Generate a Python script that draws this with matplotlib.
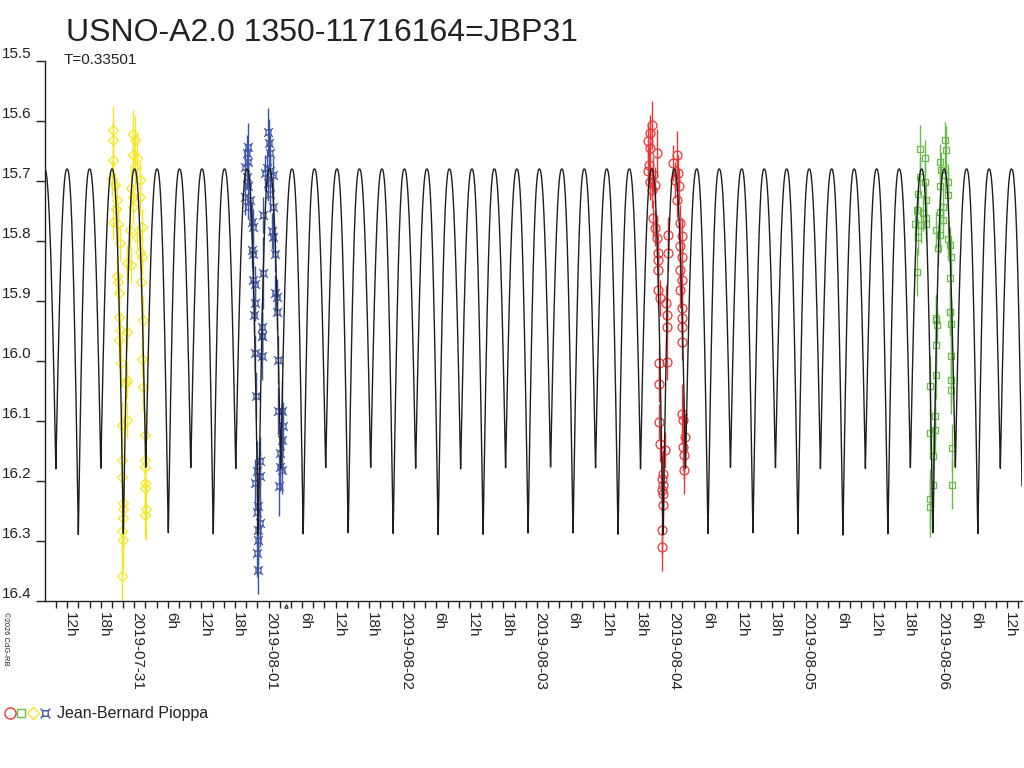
import numpy as np
import matplotlib
matplotlib.use("Agg")
import matplotlib.pyplot as plt
import matplotlib.transforms as mtransforms
from matplotlib.path import Path
from datetime import datetime, timedelta

plt.rcParams['font.family'] = ['Liberation Sans', 'DejaVu Sans']

TITLE = "USNO-A2.0 1350-11716164=JBP31"
SUBTITLE = "T=0.33501"
OBSERVER = "Jean-Bernard Pioppa"
COPYRIGHT = "\u00a92026 CdG-RB"
BASE_DATE = datetime(2019, 7, 30)   # time axis: hours since this date

# ---- light-curve model (period given on the chart) ----
PERIOD_DAYS = 0.33501
EPOCH_HOURS = 30.08          # a primary minimum
MAX_MAG = 15.68
PRIMARY_MIN_MAG = 16.29
SECONDARY_MIN_MAG = 16.18
SHAPE_EXP = 1.2
CURVE_RANGE_HOURS = (8.0, 182.7)

X_LIMITS = (8.04, 182.7)
Y_LIMITS = (16.4, 15.5)
Y_TICKS = [15.5, 15.6, 15.7, 15.8, 15.9, 16.0, 16.1, 16.2, 16.3, 16.4]
X_TICKS = list(range(10, 184, 2))

# ---- observations (hours since 2019-07-30 00:00, magnitude, error) ----
yellow_t = [20.25, 20.25, 20.2, 19.96, 20.55, 20.85, 20.73, 20.25, 21.14, 21.44,
            20.96, 21.14, 21.32, 21.32, 21.44, 21.32, 21.56, 22.64, 22.64, 22.52,
            22.64, 21.74, 21.74, 21.74, 22.03, 21.92, 22.03, 21.74, 22.03, 21.74,
            23.82, 24.12, 23.71, 24.42, 24.12, 25.02, 23.35, 23.71, 25.02, 23.82,
            25.32, 23.23, 24.42, 25.02, 25.32, 22.64, 23.35, 25.14, 25.50, 25.32,
            25.61, 25.91, 25.91, 25.91, 25.91, 25.91, 26.09, 25.91]
yellow_mag = [15.615, 15.632, 15.665, 15.696, 15.707, 15.732, 15.746, 15.768, 15.771, 15.804,
              15.859, 15.868, 15.887, 15.926, 15.948, 15.965, 16.004, 15.951, 16.032, 16.037,
              16.098, 16.107, 16.165, 16.193, 16.237, 16.246, 16.262, 16.284, 16.298, 16.359,
              15.621, 15.632, 15.657, 15.662, 15.676, 15.698, 15.712, 15.726, 15.726, 15.743,
              15.776, 15.782, 15.793, 15.818, 15.826, 15.837, 15.840, 15.868, 15.932, 15.996,
              16.043, 16.123, 16.165, 16.176, 16.204, 16.212, 16.246, 16.257]
yellow_err = [0.04, 0.03, 0.03, 0.03, 0.02, 0.03, 0.02, 0.03, 0.03, 0.03,
              0.03, 0.02, 0.03, 0.03, 0.03, 0.03, 0.04, 0.03, 0.03, 0.03,
              0.03, 0.04, 0.04, 0.03, 0.04, 0.04, 0.05, 0.04, 0.05, 0.05,
              0.04, 0.04, 0.03, 0.04, 0.03, 0.03, 0.03, 0.02, 0.03, 0.03,
              0.03, 0.03, 0.02, 0.03, 0.03, 0.03, 0.03, 0.03, 0.04, 0.03,
              0.04, 0.04, 0.03, 0.03, 0.04, 0.03, 0.05, 0.04]

blue_t = [44.38, 44.09, 44.38, 43.79, 44.09, 44.38, 43.79, 44.68, 44.38, 44.98,
          45.28, 44.98, 45.28, 45.28, 45.58, 45.58, 45.46, 46.95, 46.77, 46.77,
          47.96, 48.14, 48.26, 47.66, 48.26, 47.36, 48.85, 47.96, 48.26, 48.85,
          47.07, 48.55, 48.85, 49.15, 49.15, 49.45, 49.45,
          46.77, 45.58, 46.77, 49.75, 45.75, 49.75, 50.34, 50.52, 50.34, 50.04,
          46.47, 50.04, 50.34, 45.87, 46.47, 45.58, 49.92, 46.17, 45.87, 46.47,
          46.05, 46.17, 45.87, 46.05]
blue_mag = [15.643, 15.654, 15.668, 15.676, 15.693, 15.709, 15.726, 15.732, 15.743, 15.768,
            15.776, 15.815, 15.821, 15.865, 15.871, 15.904, 15.923, 15.854, 15.943, 15.959,
            15.618, 15.637, 15.654, 15.679, 15.684, 15.687, 15.690, 15.704, 15.721, 15.743,
            15.757, 15.784, 15.793, 15.821, 15.887, 15.893, 15.918,
            15.959, 15.986, 15.992, 15.998, 16.058, 16.084, 16.084, 16.109, 16.131, 16.154,
            16.167, 16.176, 16.181, 16.184, 16.192, 16.204, 16.209, 16.242, 16.251, 16.270,
            16.281, 16.298, 16.320, 16.348]
blue_err = [0.04, 0.03, 0.03, 0.03, 0.02, 0.03, 0.03, 0.03, 0.02, 0.03,
            0.03, 0.03, 0.03, 0.03, 0.03, 0.03, 0.03, 0.06, 0.04, 0.04,
            0.04, 0.04, 0.03, 0.03, 0.03, 0.03, 0.03, 0.03, 0.03, 0.03,
            0.03, 0.03, 0.03, 0.03, 0.03, 0.03, 0.03,
            0.04, 0.03, 0.04, 0.04, 0.04, 0.04, 0.05, 0.04, 0.04, 0.04,
            0.04, 0.04, 0.04, 0.05, 0.04, 0.04, 0.05, 0.04, 0.04, 0.04,
            0.04, 0.04, 0.04, 0.04]

red_t = [116.47, 116.17, 115.87, 116.17, 117.36, 116.05, 115.87, 116.77, 116.17, 117.07,
         116.47, 116.77, 117.07, 117.36, 117.66, 117.66, 117.66, 117.66, 117.96, 119.03,
         119.15,
         120.94, 120.34, 121.24, 120.64, 121.42, 120.94, 119.45, 121.53, 121.83, 121.53,
         119.45, 121.83, 121.53, 121.83, 121.53, 121.83, 121.83,
         119.15, 121.83, 121.83, 117.84, 119.15, 117.84, 117.84, 121.83, 122.13, 122.43,
         117.96, 118.85, 122.13, 122.25, 122.25, 118.55, 118.26, 118.55, 118.26, 118.55,
         118.44, 118.26, 118.26]
red_mag = [15.606, 15.620, 15.634, 15.645, 15.654, 15.673, 15.684, 15.690, 15.701, 15.706,
           15.715, 15.762, 15.779, 15.795, 15.820, 15.831, 15.848, 15.881, 15.895, 15.904,
           15.923,
           15.656, 15.670, 15.687, 15.698, 15.709, 15.731, 15.790, 15.770, 15.792, 15.809,
           15.820, 15.826, 15.848, 15.865, 15.881, 15.912, 15.929,
           15.943, 15.943, 15.968, 16.004, 16.001, 16.039, 16.101, 16.088, 16.099, 16.126,
           16.138, 16.149, 16.143, 16.157, 16.182, 16.188, 16.196, 16.207, 16.215, 16.221,
           16.240, 16.282, 16.310]
red_err = [0.04, 0.03, 0.03, 0.03, 0.04, 0.03, 0.03, 0.03, 0.03, 0.03,
           0.03, 0.03, 0.03, 0.03, 0.03, 0.03, 0.03, 0.03, 0.03, 0.03,
           0.03,
           0.04, 0.03, 0.03, 0.03, 0.03, 0.03, 0.03, 0.03, 0.03, 0.03,
           0.03, 0.03, 0.03, 0.03, 0.03, 0.03, 0.03,
           0.03, 0.03, 0.03, 0.03, 0.03, 0.03, 0.03, 0.05, 0.04, 0.04,
           0.03, 0.03, 0.04, 0.04, 0.04, 0.04, 0.04, 0.04, 0.04, 0.04,
           0.04, 0.04, 0.04]

green_t = [164.43, 165.33, 164.43, 165.33, 164.13, 165.62, 163.84, 165.03, 165.62, 163.54,
           164.73, 165.50, 164.13, 163.84,
           168.90, 169.20, 168.01, 168.30, 168.90, 169.50, 168.01, 169.50, 168.60, 168.01,
           168.60, 167.41, 168.01, 169.50, 167.71, 169.79, 170.09, 169.79, 169.79, 167.29,
           167.29, 167.53, 169.79, 169.97, 167.41, 170.09, 167.29, 166.22, 170.09, 170.09,
           167.11, 166.22, 167.11, 170.27, 166.82, 166.70, 170.27, 166.34, 166.34]
green_mag = [15.646, 15.662, 15.693, 15.701, 15.721, 15.732, 15.748, 15.754, 15.762, 15.771,
             15.773, 15.771, 15.793, 15.851,
             15.632, 15.648, 15.668, 15.682, 15.690, 15.701, 15.709, 15.723, 15.743, 15.751,
             15.765, 15.782, 15.790, 15.796, 15.812, 15.807, 15.826, 15.862, 15.918, 15.929,
             15.932, 15.940, 15.919, 15.938, 15.973, 15.992, 16.023, 16.041, 16.031, 16.049,
             16.091, 16.120, 16.115, 16.145, 16.159, 16.206, 16.206, 16.230, 16.244]
green_err = [0.04, 0.03, 0.03, 0.03, 0.03, 0.03, 0.03, 0.03, 0.03, 0.03,
             0.03, 0.03, 0.03, 0.04,
             0.03, 0.04, 0.03, 0.03, 0.03, 0.03, 0.03, 0.03, 0.03, 0.03,
             0.03, 0.03, 0.03, 0.03, 0.03, 0.03, 0.03, 0.03, 0.03, 0.04,
             0.04, 0.03, 0.04, 0.04, 0.03, 0.04, 0.04, 0.05, 0.04, 0.04,
             0.04, 0.04, 0.04, 0.04, 0.05, 0.04, 0.04, 0.05, 0.05]

RED = "#ee3535"
GREEN = "#66bb4a"
YELLOW = "#f5e61e"
BLUE = "#3d55a5"
CURVE_COLOR = "#1e1e1e"

# custom "currency sign" marker: square with corner ticks
_v = [(-0.45, -0.45), (0.45, -0.45), (0.45, 0.45), (-0.45, 0.45), (-0.45, -0.45),
      (-0.45, -0.45), (-0.8, -0.8), (0.45, -0.45), (0.8, -0.8),
      (0.45, 0.45), (0.8, 0.8), (-0.45, 0.45), (-0.8, 0.8)]
_c = [Path.MOVETO, Path.LINETO, Path.LINETO, Path.LINETO, Path.LINETO,
      Path.MOVETO, Path.LINETO, Path.MOVETO, Path.LINETO,
      Path.MOVETO, Path.LINETO, Path.MOVETO, Path.LINETO]
CURRENCY = Path(_v, _c)

fig = plt.figure(figsize=(10.24, 7.68), dpi=100)
W, H = 1024, 768
ax = fig.add_axes([45 / W, (H - 601) / H, (1022 - 45) / W, (601 - 61) / H])

series = [
    (yellow_t, yellow_mag, yellow_err, YELLOW, "D", 5.2),
    (blue_t, blue_mag, blue_err, BLUE, CURRENCY, 6.3),
    (red_t, red_mag, red_err, RED, "o", 6.4),
    (green_t, green_mag, green_err, GREEN, "s", 5.0),
]
for t, m, e, col, mk, ms in series:
    ax.errorbar(t, m, yerr=e, fmt="none", ecolor=col, elinewidth=1.0, capsize=0, zorder=2)
    ax.plot(t, m, ls="none", marker=mk, ms=ms, mfc="none", mec=col, mew=0.9, zorder=3)

# model curve
tt = np.linspace(CURVE_RANGE_HOURS[0], CURVE_RANGE_HOURS[1], 12000)
period_h = PERIOD_DAYS * 24.0
ph = 2 * np.pi * (tt - EPOCH_HOURS) / period_h
dp = PRIMARY_MIN_MAG - MAX_MAG
ds = SECONDARY_MIN_MAG - MAX_MAG
depth = (dp + ds) / 2 + (dp - ds) / 2 * np.cos(ph)
model = MAX_MAG + depth * (1 - np.abs(np.sin(ph))) ** SHAPE_EXP
ax.plot(tt, model, color=CURVE_COLOR, lw=1.0, zorder=5)

ax.set_xlim(*X_LIMITS)
ax.set_ylim(*Y_LIMITS)
for s in ["top", "right"]:
    ax.spines[s].set_visible(False)
for s in ["left", "bottom"]:
    ax.spines[s].set_color("#222222")
    ax.spines[s].set_linewidth(1.0)

ax.set_yticks(Y_TICKS)
ax.set_yticklabels([f"{v:.1f}" for v in Y_TICKS])
ax.tick_params(axis="y", direction="out", length=6.5, width=1, pad=3,
               labelsize=11, colors="#222222")
for lbl in ax.get_yticklabels():
    lbl.set_verticalalignment("bottom")


def xlabel_for(h):
    if h % 24 == 0:
        return (BASE_DATE + timedelta(hours=h)).strftime("%Y-%m-%d")
    if h % 6 == 0:
        return f"{h % 24}h"
    return ""


ax.set_xticks(X_TICKS)
ax.set_xticklabels([xlabel_for(h) for h in X_TICKS], rotation=270)
ax.tick_params(axis="x", direction="out", length=5, width=1, pad=3,
               labelsize=11, colors="#222222")
offset = mtransforms.ScaledTranslation(3 / 100, 0, fig.dpi_scale_trans)
for lbl in ax.get_xticklabels():
    lbl.set_transform(lbl.get_transform() + offset)

# texts
fig.text(66 / W, 1 - 41 / H, TITLE, fontsize=23, color="#222222", va="baseline")
fig.text(64 / W, 1 - 64 / H, SUBTITLE, fontsize=11, color="#222222", va="baseline")
fig.text(57 / W, 1 - 718 / H, OBSERVER, fontsize=11.5, color="#222222", va="baseline")
fig.text(5 / W, 1 - 612 / H, COPYRIGHT, fontsize=5.5, color="#222222",
         rotation=270, ha="center", va="top")

# legend symbols and small mark (figure pixel overlay)
ov = fig.add_axes([0, 0, 1, 1], facecolor="none")
ov.set_xlim(0, W)
ov.set_ylim(H, 0)
ov.axis("off")
ov.plot([10], [713], marker="o", ms=8, mfc="none", mec=RED, mew=1.0)
ov.plot([21], [713], marker="s", ms=6, mfc="none", mec=GREEN, mew=1.0)
ov.plot([33], [713], marker="D", ms=6, mfc="none", mec=YELLOW, mew=1.0)
ov.plot([45], [713], marker=CURRENCY, ms=7, mfc="none", mec=BLUE, mew=1.0)
ov.plot([285.5], [606], marker="^", ms=2.5, mfc="none", mec="#222222", mew=0.8)

fig.savefig("out.png", dpi=100)
